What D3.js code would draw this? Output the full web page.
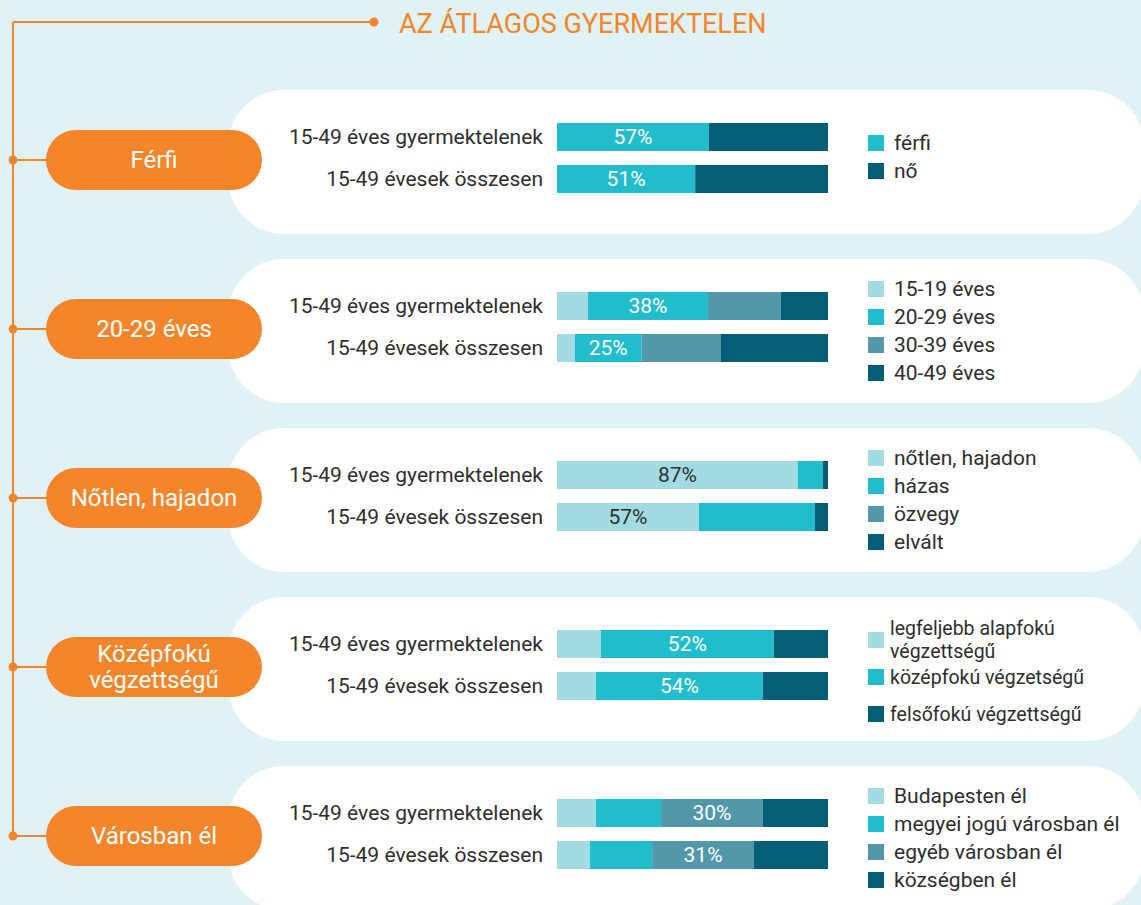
<!DOCTYPE html>
<html>
<head>
<meta charset="utf-8">
<script src="https://cdn.jsdelivr.net/npm/d3@7"></script>
<style>
  body { margin: 0; background: #e0f2f5; }
  svg { display: block; font-family: Roboto, "Noto Sans", sans-serif; }
</style>
</head>
<body>
<svg id="svg" width="1141" height="905"></svg>
<script>
// --- data ---
var title = "AZ ÁTLAGOS GYERMEKTELEN";
var groups = ["Férfi", "20-29 éves", "Nőtlen, hajadon", "Középfokú\nvégzettségű", "Városban él"];
var rowNames = ["15-49 éves gyermektelenek", "15-49 évesek összesen"];

var legendLabels = [
    ["férfi", "nő"],
    ["15-19 éves", "20-29 éves", "30-39 éves", "40-49 éves"],
    ["nőtlen, hajadon", "házas", "özvegy", "elvált"],
    ["legfeljebb alapfokú\nvégzettségű", "középfokú végzetségű", "felsőfokú végzettségű"],
    ["Budapesten él", "megyei jogú városban él", "egyéb városban él", "községben él"]
];

// share of each category, % (row 1 = gyermektelenek, row 2 = összesen)
var nemValues = [[56, 44], [51, 49]];
var korValues = [[11.4, 44.3, 26.9, 17.4], [6.6, 24.6, 29.3, 39.5]];
var csaladiValues = [[88.9, 9.2, 0, 1.9], [52.4, 42.8, 0, 4.8]];
var iskolaValues = [[16.2, 63.8, 20.0], [14.4, 61.6, 24.0]];
var lakohelyValues = [[14.4, 24.0, 37.6, 24.0], [12.2, 22.9, 37.6, 27.3]];
var allValues = [nemValues, korValues, csaladiValues, iskolaValues, lakohelyValues];

// printed labels and the segment they sit on
var barLabels = [["57%", "51%"], ["38%", "25%"], ["87%", "57%"], ["52%", "54%"], ["30%", "31%"]];
var labelSegment = [0, 1, 0, 1, 2];

// --- styles ---
var orange = "#f5852a";
var light = "#a3dbe3", cyan = "#22bdcd", steel = "#5397aa", dark = "#045e75";
var groupColors = [
    [cyan, dark],
    [light, cyan, steel, dark],
    [light, cyan, steel, dark],
    [light, cyan, dark],
    [light, cyan, steel, dark]
];
var textColor = "#2e2e2e";

var svg = d3.select("#svg");

var panelY = d3.scaleLinear().domain([0, groups.length - 1]).range([90, 766]);
var x = d3.scaleLinear().domain([0, 100]).range([557, 828]);
var panelH = 144, barH = 28;

// timeline
svg.append("line")
    .attr("x1", 13).attr("x2", 13)
    .attr("y1", 22).attr("y2", panelY(groups.length - 1) + 68)
    .attr("stroke", orange).attr("stroke-width", 2);
svg.append("line")
    .attr("x1", 13).attr("x2", 374)
    .attr("y1", 22).attr("y2", 22)
    .attr("stroke", orange).attr("stroke-width", 2);
svg.append("circle").attr("cx", 374).attr("cy", 22).attr("r", 4.5).attr("fill", orange);

svg.append("text")
    .attr("x", 399).attr("y", 33)
    .attr("fill", orange)
    .attr("font-size", 27)
    .text(title);

var panel = svg.selectAll("g.panel")
    .data(groups)
    .enter()
    .append("g")
    .attr("class", "panel")
    .attr("transform", (d, i) => "translate(0," + panelY(i) + ")");

// white rounded box
panel.append("rect")
    .attr("x", 228).attr("y", 0)
    .attr("width", 916).attr("height", panelH)
    .attr("rx", 56).attr("ry", 56)
    .attr("fill", "#fff");

// connector + dot + pill
panel.append("line")
    .attr("x1", 13).attr("x2", 60)
    .attr("y1", 70).attr("y2", 70)
    .attr("stroke", orange).attr("stroke-width", 2);
panel.append("circle").attr("cx", 13).attr("cy", 70).attr("r", 4.5).attr("fill", orange);
panel.append("rect")
    .attr("x", 46).attr("y", 40)
    .attr("width", 216).attr("height", 60)
    .attr("rx", 30)
    .attr("fill", orange);
panel.append("text")
    .attr("x", 154)
    .attr("text-anchor", "middle")
    .attr("fill", "#fff")
    .attr("font-size", 24)
    .each(function (d) {
        var lines = d.split("\n");
        var t = d3.select(this);
        lines.forEach((l, k) => {
            t.append("tspan")
                .attr("x", 154)
                .attr("y", 70 + (k - (lines.length - 1) / 2) * 26)
                .attr("dy", "0.35em")
                .text(l);
        });
    });

// rows
var rowY = d3.scalePoint().domain(rowNames).range([47, 89]);

panel.each(function (g, i) {
    var p = d3.select(this);
    var colors = groupColors[i];

    rowNames.forEach((name, r) => {
        var vals = allValues[i][r];
        var segs = [];
        var acc = 0;
        vals.forEach((v, k) => { segs.push({ k: k, x0: acc, x1: acc + v }); acc += v; });

        p.append("text")
            .attr("x", 543).attr("y", rowY(name))
            .attr("dy", "0.35em")
            .attr("text-anchor", "end")
            .attr("fill", textColor)
            .attr("font-size", 21)
            .text(name);

        p.selectAll("rect.seg" + r)
            .data(segs)
            .enter()
            .append("rect")
            .attr("class", "seg" + r)
            .attr("x", d => x(d.x0))
            .attr("width", d => x(d.x1) - x(d.x0))
            .attr("y", rowY(name) - barH / 2)
            .attr("height", barH)
            .attr("fill", d => colors[d.k]);

        var s = segs[labelSegment[i]];
        p.append("text")
            .attr("x", (x(s.x0) + x(s.x1)) / 2)
            .attr("y", rowY(name))
            .attr("dy", "0.35em")
            .attr("text-anchor", "middle")
            .attr("font-size", 21)
            .attr("fill", colors[s.k] === light ? textColor : "#fff")
            .text(barLabels[i][r]);
    });

    // legend
    var items = legendLabels[i];
    var multi = items.some(l => l.indexOf("\n") >= 0);
    var gap = multi ? 37 : 28;
    var top = (multi ? 80 : (i === 0 ? 67 : 72)) - gap * (items.length - 1) / 2;

    items.forEach((lab, k) => {
        var cy = top + k * gap;
        p.append("rect")
            .attr("x", 868).attr("y", cy - 8)
            .attr("width", 16).attr("height", 16)
            .attr("fill", colors[k]);
        var lines = lab.split("\n");
        var t = p.append("text")
            .attr("fill", textColor)
            .attr("font-size", multi ? 19.5 : 21);
        lines.forEach((l, j) => {
            t.append("tspan")
                .attr("x", multi ? 890 : 894)
                .attr("y", cy + (j - (lines.length - 1) / 2) * 23)
                .attr("dy", "0.35em")
                .text(l);
        });
    });
});
</script>
</body>
</html>
